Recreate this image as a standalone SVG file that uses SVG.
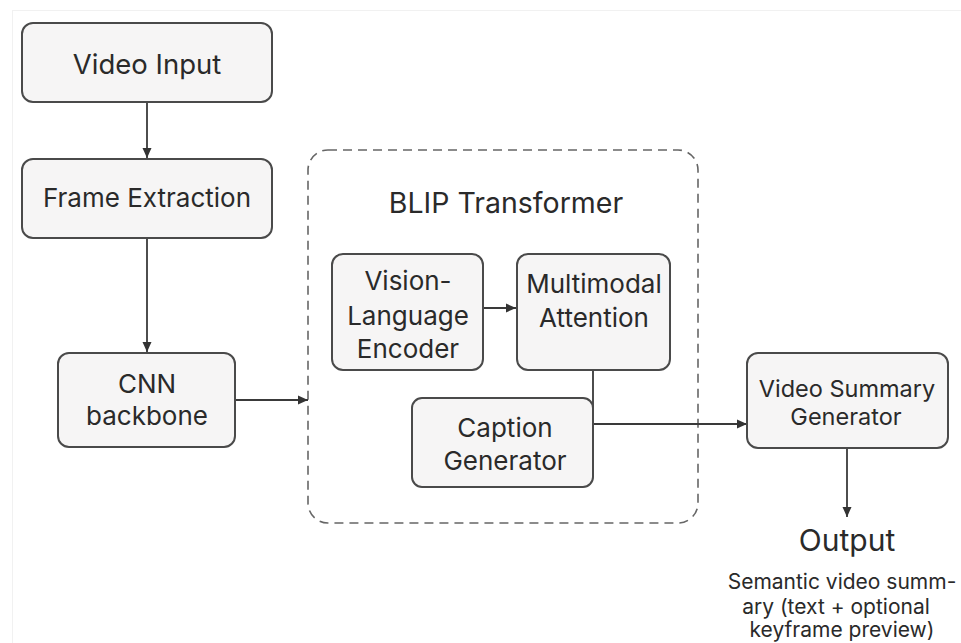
<svg xmlns="http://www.w3.org/2000/svg" width="961" height="643" viewBox="0 0 961 643">
  <style>
    .box { fill: #f6f5f5; stroke: #4a4a4a; stroke-width: 2; }
    .frame { fill: none; stroke: #666; stroke-width: 1.6; stroke-dasharray: 9 6; }
    .lbl { font-family: Inter, "Liberation Sans", Arial, sans-serif; font-size: 26px; fill: #2a2a2a; text-anchor: middle; }
    .big { font-size: 27.5px; }
    .title { font-size: 28.5px; }
    .small { font-size: 23.5px; }
    .out { font-size: 30px; }
    .desc { font-size: 21px; }
    .wire { fill: none; stroke: #3a3a3a; stroke-width: 1.8; }
  </style>
  <defs>
    <marker id="arrow" viewBox="0 0 10 10" refX="10" refY="5" markerWidth="10" markerHeight="10" markerUnits="userSpaceOnUse" orient="auto">
      <path d="M0,0.5 L10,5 L0,9.5 Z" fill="#333"/>
    </marker>
  </defs>

  <rect width="961" height="643" fill="#ffffff"/>
  <rect x="12.5" y="10.5" width="960" height="640" fill="none" stroke="#f1f1f1" stroke-width="1"/>

  <!-- BLIP transformer container -->
  <g id="blip">
    <rect class="frame" x="308" y="150" width="390" height="373" rx="20"/>
    <text class="lbl title" x="506" y="213">BLIP Transformer</text>
  </g>

  <g id="connectors">
    <line class="wire" x1="147" y1="102" x2="147" y2="158" marker-end="url(#arrow)"/>
    <line class="wire" x1="147" y1="238" x2="147" y2="352" marker-end="url(#arrow)"/>
    <line class="wire" x1="235" y1="400" x2="308" y2="400" marker-end="url(#arrow)"/>
    <line class="wire" x1="483" y1="308" x2="516" y2="308" marker-end="url(#arrow)"/>
    <polyline class="wire" points="593,370 593,424 747,424" marker-end="url(#arrow)"/>
    <line class="wire" x1="847" y1="448" x2="847" y2="517" marker-end="url(#arrow)"/>
  </g>

  <g id="video-input">
    <rect class="box" x="22" y="23" width="250" height="79" rx="11"/>
    <text class="lbl big" x="147" y="74">Video Input</text>
  </g>

  <g id="frame-extraction">
    <rect class="box" x="22" y="159" width="250" height="79" rx="11"/>
    <text class="lbl" x="147" y="207">Frame Extraction</text>
  </g>

  <g id="cnn-backbone">
    <rect class="box" x="58" y="353" width="177" height="94" rx="11"/>
    <text class="lbl" x="147" y="393">CNN</text>
    <text class="lbl" x="147" y="425">backbone</text>
  </g>

  <g id="vision-language-encoder">
    <rect class="box" x="332" y="254" width="151" height="116" rx="11"/>
    <text class="lbl" x="408" y="290">Vision-</text>
    <text class="lbl" x="408" y="325">Language</text>
    <text class="lbl" x="408" y="358">Encoder</text>
  </g>

  <g id="multimodal-attention">
    <rect class="box" x="517" y="254" width="153" height="116" rx="11"/>
    <text class="lbl" x="594" y="293">Multimodal</text>
    <text class="lbl" x="594" y="327">Attention</text>
  </g>

  <g id="caption-generator">
    <rect class="box" x="412" y="398" width="181" height="89" rx="10"/>
    <text class="lbl" x="505" y="437">Caption</text>
    <text class="lbl" x="505" y="470">Generator</text>
  </g>

  <g id="video-summary-generator">
    <rect class="box" x="747" y="353" width="201" height="95" rx="11"/>
    <text class="lbl small" x="847" y="397">Video Summary</text>
    <text class="lbl small" x="846" y="425">Generator</text>
  </g>

  <g id="output">
    <text class="lbl out" x="847" y="551">Output</text>
    <text class="lbl desc" x="842" y="589">Semantic video summ-</text>
    <text class="lbl desc" x="836" y="614">ary (text + optional</text>
    <text class="lbl desc" x="842" y="637">keyframe preview)</text>
  </g>
</svg>
